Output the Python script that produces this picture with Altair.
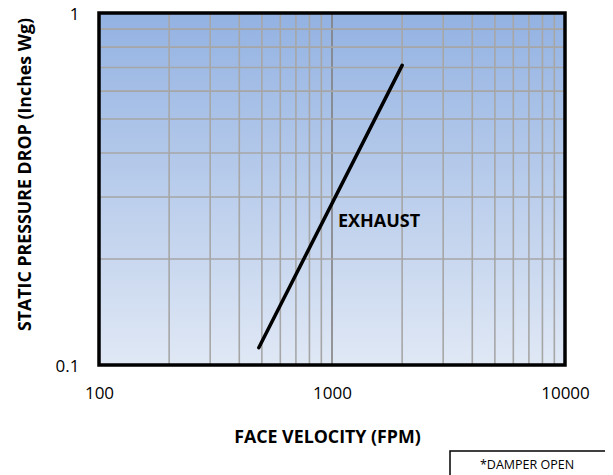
import altair as alt
import pandas as pd

# Data
velocity = [485, 2000]          # FPM
pressure = [0.112, 0.71]        # inches Wg
series_label = "EXHAUST"
label_pos = (1060, 0.255)

x_ticks = [100, 200, 300, 400, 500, 600, 700, 800, 900,
           1000, 2000, 3000, 4000, 5000, 6000, 7000, 8000, 9000, 10000]
y_ticks = [0.1, 0.2, 0.3, 0.4, 0.5, 0.6, 0.7, 0.8, 0.9, 1]

FONT = "Open Sans"
W, H = 466, 352

line_df = pd.DataFrame({"v": velocity, "p": pressure})
frame_df = pd.DataFrame({"x": [100], "x2": [10000], "y": [0.1], "y2": [1]})
label_df = pd.DataFrame({"v": [label_pos[0]], "p": [label_pos[1]], "t": [series_label]})
xgrid_df = pd.DataFrame({"v": x_ticks, "major": [t == 1000 for t in x_ticks]})
ygrid_df = pd.DataFrame({"p": y_ticks})

xscale = alt.Scale(type="log", domain=[100, 10000], nice=False)
yscale = alt.Scale(type="log", domain=[0.1, 1], nice=False)

x_axis = alt.Axis(
    values=x_ticks, grid=False,
    ticks=False, domain=False, labelOverlap=False, labelFlush=False,
    labelExpr="datum.value == 100 ? '100' : datum.value == 1000 ? '1000' : datum.value == 10000 ? '10000' : ''",
    labelFont=FONT, labelFontSize=17, labelColor="#000000", labelPadding=20,
    title="FACE VELOCITY (FPM)", titleFont=FONT, titleFontSize=17.8, titleFontWeight="bold",
    titleColor="#000000", titleX=228, titleY=72, titleBaseline="middle", titleAnchor="middle",
)
y_axis = alt.Axis(
    values=y_ticks, grid=False,
    ticks=False, domain=False, labelOverlap=False, labelFlush=False,
    labelExpr="datum.value == 1 ? '1' : datum.value < 0.15 ? '0.1' : ''",
    labelFont=FONT, labelFontSize=17, labelColor="#000000", labelPadding=20, labelOffset=1,
    title="STATIC PRESSURE DROP (Inches Wg)", titleFont=FONT, titleFontSize=17.8,
    titleFontWeight="bold", titleColor="#000000", titleX=-74, titleY=161,
    titleBaseline="middle", titleAngle=-90,
)

gradient = alt.LinearGradient(
    gradient="linear",
    stops=[alt.GradientStop(color="#93b2e2", offset=0),
           alt.GradientStop(color="#e0e8f5", offset=1)],
    x1=0, x2=0, y1=0, y2=1,
)

background = alt.Chart(frame_df).mark_rect(fill=gradient, strokeWidth=0).encode(
    x=alt.X("x:Q", scale=xscale, axis=x_axis), x2="x2:Q",
    y=alt.Y("y:Q", scale=yscale, axis=y_axis), y2="y2:Q",
)

xgrid = alt.Chart(xgrid_df).mark_rule(strokeWidth=1.6).encode(
    x=alt.X("v:Q", scale=xscale),
    color=alt.condition("datum.major", alt.value("#808080"), alt.value("#a6a6a6")),
)
ygrid = alt.Chart(ygrid_df).mark_rule(strokeWidth=1.6, color="#a6a6a6").encode(
    y=alt.Y("p:Q", scale=yscale),
)

line = alt.Chart(line_df).mark_line(color="black", strokeWidth=3.5, strokeCap="round").encode(
    x=alt.X("v:Q", scale=xscale),
    y=alt.Y("p:Q", scale=yscale),
)

label = alt.Chart(label_df).mark_text(
    align="left", baseline="middle", font=FONT, fontSize=18, fontWeight="bold", color="black"
).encode(x=alt.X("v:Q", scale=xscale), y=alt.Y("p:Q", scale=yscale), text="t:N")

frame = alt.Chart(frame_df).mark_rect(filled=False, stroke="black", strokeWidth=3.5).encode(
    x=alt.X("x:Q", scale=xscale), x2="x2:Q",
    y=alt.Y("y:Q", scale=yscale), y2="y2:Q",
)

note_data = alt.Data(values=[{"t": "*DAMPER OPEN"}])
note_box = alt.Chart(note_data).mark_rect(filled=False, stroke="black", strokeWidth=1.5).encode(
    x=alt.value(351), x2=alt.value(508), y=alt.value(438), y2=alt.value(475)
)
note_text = alt.Chart(note_data).mark_text(
    align="center", baseline="middle", font=FONT, fontSize=12.5, color="black"
).encode(x=alt.value(428), y=alt.value(452), text="t:N")

chart = alt.layer(background, xgrid, ygrid, line, label, frame, note_box, note_text).properties(
    width=W, height=H,
    autosize=alt.AutoSizeParams(type="none"),
    padding={"left": 91, "top": 5, "right": 40, "bottom": 110},
    background="white",
).configure_view(stroke=None)

chart.save("out.html", embed_options={"renderer": "svg", "actions": False})
